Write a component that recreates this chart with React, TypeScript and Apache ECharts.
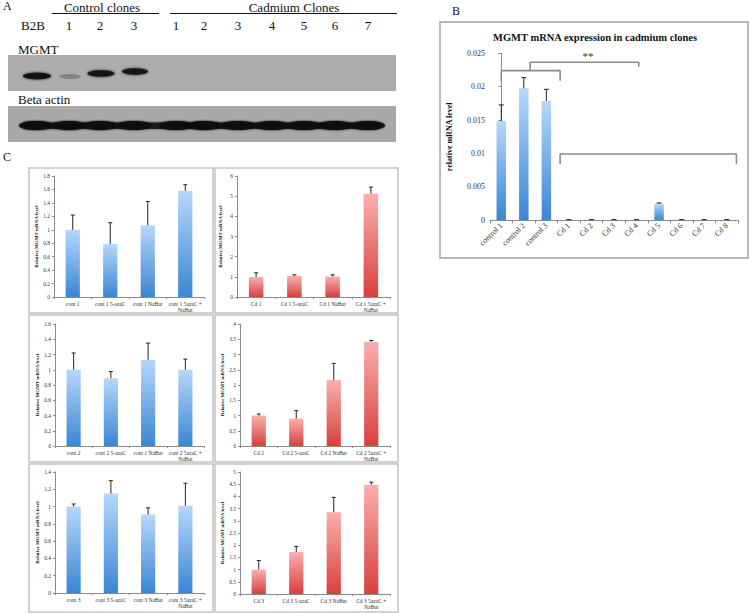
import { useEffect, useRef } from "react";
import * as echarts from "echarts";

// ---------- Panel A (western blot) ----------
const laneLabels = ["B2B", "1", "2", "3", "1", "2", "3", "4", "5", "6", "7"];
const mgmtBand = [0.92, 0.22, 0.88, 0.85, 0, 0, 0, 0, 0, 0, 0];
const actinBand = [0.95, 0.93, 0.92, 0.92, 0.92, 0.93, 0.92, 0.92, 0.92, 0.93, 0.93];

// ---------- Panel B ----------
const bCategories = ["control 1", "control 2", "control 3", "Cd 1", "Cd 2", "Cd 3", "Cd 4", "Cd 5", "Cd 6", "Cd 7", "Cd 8"];
const bValues = [0.01487, 0.01976, 0.01786, 0.00005, 0.00005, 0.00005, 0.00005, 0.0025, 0.00005, 0.00005, 0.00005];
const bErrorTop = [0.01727, 0.02136, 0.01961, 0.0001, 0.0001, 0.0001, 0.0001, 0.0026, 0.0001, 0.0001, 0.0001];
const bBracketControls = [[0, 0.0209], [0, 0.0224], [2.61, 0.0224], [2.61, 0.0209]];
const bBracketBetween = [[1.28, 0.0224], [1.28, 0.02365], [6.1, 0.02365], [6.1, 0.023]];
const bBracketCadmium = [[2.61, 0.00843], [2.61, 0.00993], [10.43, 0.00993], [10.43, 0.00843]];

// ---------- Panel C ----------
const c1Categories = ["cont 1", "cont 1 5-azaC", "cont 1 NaBut", "cont 1 5azaC +\nNaBut"];
const c1Values = [1.0, 0.79, 1.066, 1.58];
const c1ErrorTop = [1.22, 1.105, 1.42, 1.67];
const c2Categories = ["Cd 1", "Cd 1 5-azaC", "Cd 1 NaBut", "Cd 1 5azaC +\nNaBut"];
const c2Values = [0.99, 1.04, 1.02, 5.12];
const c2ErrorTop = [1.2, 1.1, 1.1, 5.45];
const c3Categories = ["cont 2", "cont 2 5-azaC", "cont 1 NaBut", "cont 2 5azaC +\nNaBut"];
const c3Values = [1.0, 0.89, 1.13, 1.0];
const c3ErrorTop = [1.22, 0.976, 1.35, 1.14];
const c4Categories = ["Cd 2", "Cd 2 5-azaC", "Cd 2 NaBut", "Cd 2 5azaC +\nNaBut"];
const c4Values = [1.0, 0.9, 2.16, 3.42];
const c4ErrorTop = [1.05, 1.16, 2.71, 3.46];
const c5Categories = ["cont 3", "cont 3 5-azaC", "cont 3 NaBut", "cont 3 5azaC +\nNaBut"];
const c5Values = [1.0, 1.15, 0.907, 1.01];
const c5ErrorTop = [1.03, 1.3, 0.985, 1.27];
const c6Categories = ["Cd 3", "Cd 3 5-azaC", "Cd 3 NaBut", "Cd 3 5azaC +\nNaBut"];
const c6Values = [1.0, 1.72, 3.35, 4.48];
const c6ErrorTop = [1.37, 1.95, 3.96, 4.58];
const cAxisMax = [1.8, 6, 1.6, 4, 1.4, 5];
const cAxisStep = [0.2, 1, 0.2, 0.5, 0.2, 0.5];

const FONT = '"Liberation Serif", "Times New Roman", serif';

const blueGrad = () =>
  new echarts.graphic.LinearGradient(0, 0, 0, 1, [
    { offset: 0, color: "#b6d7fb" },
    { offset: 1, color: "#3a86d3" },
  ]);
const redGrad = () =>
  new echarts.graphic.LinearGradient(0, 0, 0, 1, [
    { offset: 0, color: "#f9b0ae" },
    { offset: 1, color: "#d8403c" },
  ]);

const errRender = (cap: number) => (_params: any, api: any) => {
  const x = api.value(0);
  const base = api.coord([x, api.value(1)]);
  const top = api.coord([x, api.value(2)]);
  return {
    type: "group",
    children: [
      { type: "line", shape: { x1: base[0], y1: base[1], x2: top[0], y2: top[1] }, style: { stroke: "#222", lineWidth: 1 } },
      { type: "line", shape: { x1: top[0] - cap, y1: top[1], x2: top[0] + cap, y2: top[1] }, style: { stroke: "#222", lineWidth: 1 } },
    ],
  };
};

export default function App() {
  const ref = useRef<HTMLDivElement>(null);

  useEffect(() => {
    if (!ref.current) return;
    const chart = echarts.init(ref.current, undefined, { renderer: "svg" });

    const laneX = [33, 69, 100, 134, 176, 204, 238, 272, 304, 335, 368];
    const graphic: any[] = [];
    const txt = (size: number, bold = false) => `${bold ? "bold " : ""}${size}px ${FONT}`;

    // Panel A texts
    graphic.push({ type: "text", left: 3, top: 0, style: { text: "A", font: txt(12), fill: "#111" } });
    graphic.push({ type: "text", x: 102, y: 7, style: { text: "Control clones", font: txt(13), fill: "#111", align: "center", verticalAlign: "middle" } });
    graphic.push({ type: "line", shape: { x1: 52, y1: 13.5, x2: 159, y2: 13.5 }, style: { stroke: "#111", lineWidth: 1.2 } });
    graphic.push({ type: "text", x: 294, y: 7, style: { text: "Cadmium Clones", font: txt(13), fill: "#111", align: "center", verticalAlign: "middle" } });
    graphic.push({ type: "line", shape: { x1: 170, y1: 13.5, x2: 397, y2: 13.5 }, style: { stroke: "#111", lineWidth: 1.2 } });
    laneLabels.forEach((l, i) => {
      graphic.push({ type: "text", x: laneX[i], y: 25, style: { text: l, font: txt(13), fill: "#111", align: "center", verticalAlign: "middle" } });
    });
    graphic.push({ type: "text", x: 18, y: 49, style: { text: "MGMT", font: txt(13), fill: "#111", verticalAlign: "middle" } });
    graphic.push({ type: "text", x: 18, y: 99, style: { text: "Beta actin", font: txt(13), fill: "#111", verticalAlign: "middle" } });

    // Blots
    graphic.push({ type: "rect", shape: { x: 8, y: 55, width: 388, height: 36 }, style: { fill: "#adadad" } });
    graphic.push({ type: "rect", shape: { x: 8, y: 106, width: 388, height: 36 }, style: { fill: "#a9a9a9" } });
    const mgmtY = [76, 76.5, 73.5, 71.5];
    const mgmtRx = [14, 11, 13.5, 13];
    mgmtBand.forEach((v, i) => {
      if (v <= 0) return;
      graphic.push({
        type: "ellipse",
        shape: { cx: laneX[i] + (i === 0 ? 4 : 1), cy: mgmtY[i] ?? 75, rx: mgmtRx[i] ?? 13, ry: i === 1 ? 2.4 : 3.2 },
        style: { fill: `rgba(15,15,15,${v})`, shadowBlur: 3, shadowColor: `rgba(15,15,15,${v})` },
      });
    });
    graphic.push({ type: "rect", shape: { x: 24, y: 122.5, width: 354, height: 6.5 }, style: { fill: "rgba(20,20,20,0.9)", shadowBlur: 2, shadowColor: "rgba(20,20,20,0.8)" } });
    actinBand.forEach((v, i) => {
      graphic.push({
        type: "ellipse",
        shape: { cx: laneX[i] + (i === 0 ? 3 : 0), cy: 125.5, rx: 17, ry: 4.6 },
        style: { fill: `rgba(15,15,15,${v})`, shadowBlur: 2, shadowColor: `rgba(15,15,15,${v})` },
      });
    });

    // Panel B frame & title
    graphic.push({ type: "text", left: 452, top: 5, style: { text: "B", font: txt(12), fill: "#111" } });
    graphic.push({ type: "rect", shape: { x: 440, y: 22, width: 308, height: 236 }, style: { fill: "none", stroke: "#a3a3a3", lineWidth: 1.5 } });
    graphic.push({ type: "text", x: 595, y: 37, style: { text: "MGMT mRNA expression in cadmium clones", font: txt(10.5, true), fill: "#111", align: "center", verticalAlign: "middle" } });
    graphic.push({ type: "text", x: 588, y: 56, z: 10, style: { text: "**", font: txt(11), fill: "#333", align: "center", verticalAlign: "middle" } });

    // Panel C frames
    graphic.push({ type: "text", left: 3, top: 151, style: { text: "C", font: txt(12), fill: "#111" } });
    const cellX = [[29, 184], [215, 183]];
    const cellY = [[168, 145], [315, 147], [464, 148]];
    cellY.forEach(([y, h]) =>
      cellX.forEach(([x, w]) =>
        graphic.push({ type: "rect", shape: { x, y, width: w, height: h }, style: { fill: "none", stroke: "#c4c4c4", lineWidth: 1.5 } })
      )
    );

    const grids: any[] = [
      { left: 490, top: 53.3, width: 248, height: 167 },
      { left: 54, top: 176, width: 150, height: 121 },
      { left: 237, top: 176, width: 153, height: 121 },
      { left: 55, top: 324, width: 149, height: 122 },
      { left: 240, top: 324, width: 150, height: 122 },
      { left: 55, top: 472, width: 149, height: 121 },
      { left: 240, top: 472, width: 150, height: 122 },
    ].map((g) => ({ ...g, outerBoundsMode: "none", containLabel: false }));

    const axisLine = { show: true, lineStyle: { color: "#8c8c8c", width: 1 } };

    const xAxes: any[] = [];
    const yAxes: any[] = [];
    const series: any[] = [];

    // Panel B axes
    xAxes.push({
      type: "category", gridIndex: 0, data: bCategories,
      axisLine, axisTick: { show: true, length: 3, lineStyle: { color: "#8c8c8c" } },
      axisLabel: { interval: 0, rotate: 45, fontSize: 8, fontFamily: FONT, color: "#333", margin: 4 },
    });
    yAxes.push({
      type: "value", gridIndex: 0, min: 0, max: 0.025, interval: 0.005,
      axisLine, axisTick: { show: true, length: 3, lineStyle: { color: "#8c8c8c" } }, splitLine: { show: false },
      axisLabel: { fontSize: 8, fontFamily: FONT, color: "#333", margin: 5 },
      name: "relative mRNA level", nameLocation: "middle", nameRotate: 90, nameGap: 37,
      nameTextStyle: { fontSize: 8, fontWeight: "bold", fontFamily: FONT, color: "#111" },
    });
    series.push({
      type: "bar", xAxisIndex: 0, yAxisIndex: 0, data: bValues, barWidth: "42%",
      itemStyle: { color: blueGrad() },
    });
    series.push({
      type: "custom", xAxisIndex: 0, yAxisIndex: 0, z: 5,
      data: bValues.map((v, i) => [i, v, bErrorTop[i]]),
      encode: { x: 0, y: [1, 2] },
      renderItem: errRender(2.5),
    });

    // Panel C
    const cSets = [
      [c1Categories, c1Values, c1ErrorTop, "blue"],
      [c2Categories, c2Values, c2ErrorTop, "red"],
      [c3Categories, c3Values, c3ErrorTop, "blue"],
      [c4Categories, c4Values, c4ErrorTop, "red"],
      [c5Categories, c5Values, c5ErrorTop, "blue"],
      [c6Categories, c6Values, c6ErrorTop, "red"],
    ] as const;
    cSets.forEach(([cats, vals, errs, col], k) => {
      const gi = k + 1;
      xAxes.push({
        type: "category", gridIndex: gi, data: cats as any,
        axisLine, axisTick: { show: true, length: 2, lineStyle: { color: "#8c8c8c" } },
        axisLabel: { interval: 0, fontSize: 5.5, lineHeight: 6, fontFamily: FONT, color: "#333", margin: 4 },
      });
      yAxes.push({
        type: "value", gridIndex: gi, min: 0, max: cAxisMax[k], interval: cAxisStep[k],
        axisLine, axisTick: { show: true, length: 2, lineStyle: { color: "#8c8c8c" } }, splitLine: { show: false },
        axisLabel: { fontSize: 5.5, fontFamily: FONT, color: "#333", margin: 4 },
        name: "Relative MGMT mRNA level", nameLocation: "middle", nameRotate: 90, nameGap: 14,
        nameTextStyle: { fontSize: 5, fontWeight: "bold", fontFamily: FONT, color: "#111" },
      });
      series.push({
        type: "bar", xAxisIndex: gi, yAxisIndex: gi, data: vals as any, barWidth: "38%",
        itemStyle: { color: col === "blue" ? blueGrad() : redGrad() },
      });
      series.push({
        type: "custom", xAxisIndex: gi, yAxisIndex: gi, z: 5,
        data: (vals as any).map((v: number, i: number) => [i, v, (errs as any)[i]]),
        encode: { x: 0, y: [1, 2] },
        renderItem: errRender(2),
      });
    });

    // Hidden value axis for panel B annotations (brackets)
    xAxes.push({ type: "value", gridIndex: 0, min: -0.5, max: 10.5, show: false });
    const annX = xAxes.length - 1;
    [bBracketControls, bBracketBetween, bBracketCadmium].forEach((b) => {
      series.push({
        type: "line", xAxisIndex: annX, yAxisIndex: 0, data: b, symbol: "none", z: 6,
        lineStyle: { color: "#8a8a8a", width: 1.6 }, silent: true,
      });
    });

    chart.setOption({
      animation: false,
      backgroundColor: "#ffffff",
      textStyle: { fontFamily: FONT },
      grid: grids,
      xAxis: xAxes,
      yAxis: yAxes,
      series,
      graphic,
    });

    return () => chart.dispose();
  }, []);

  return (
    <div
      ref={ref}
      style={{ position: "absolute", left: 0, top: 0, width: 750, height: 613, background: "#fff" }}
    />
  );
}
